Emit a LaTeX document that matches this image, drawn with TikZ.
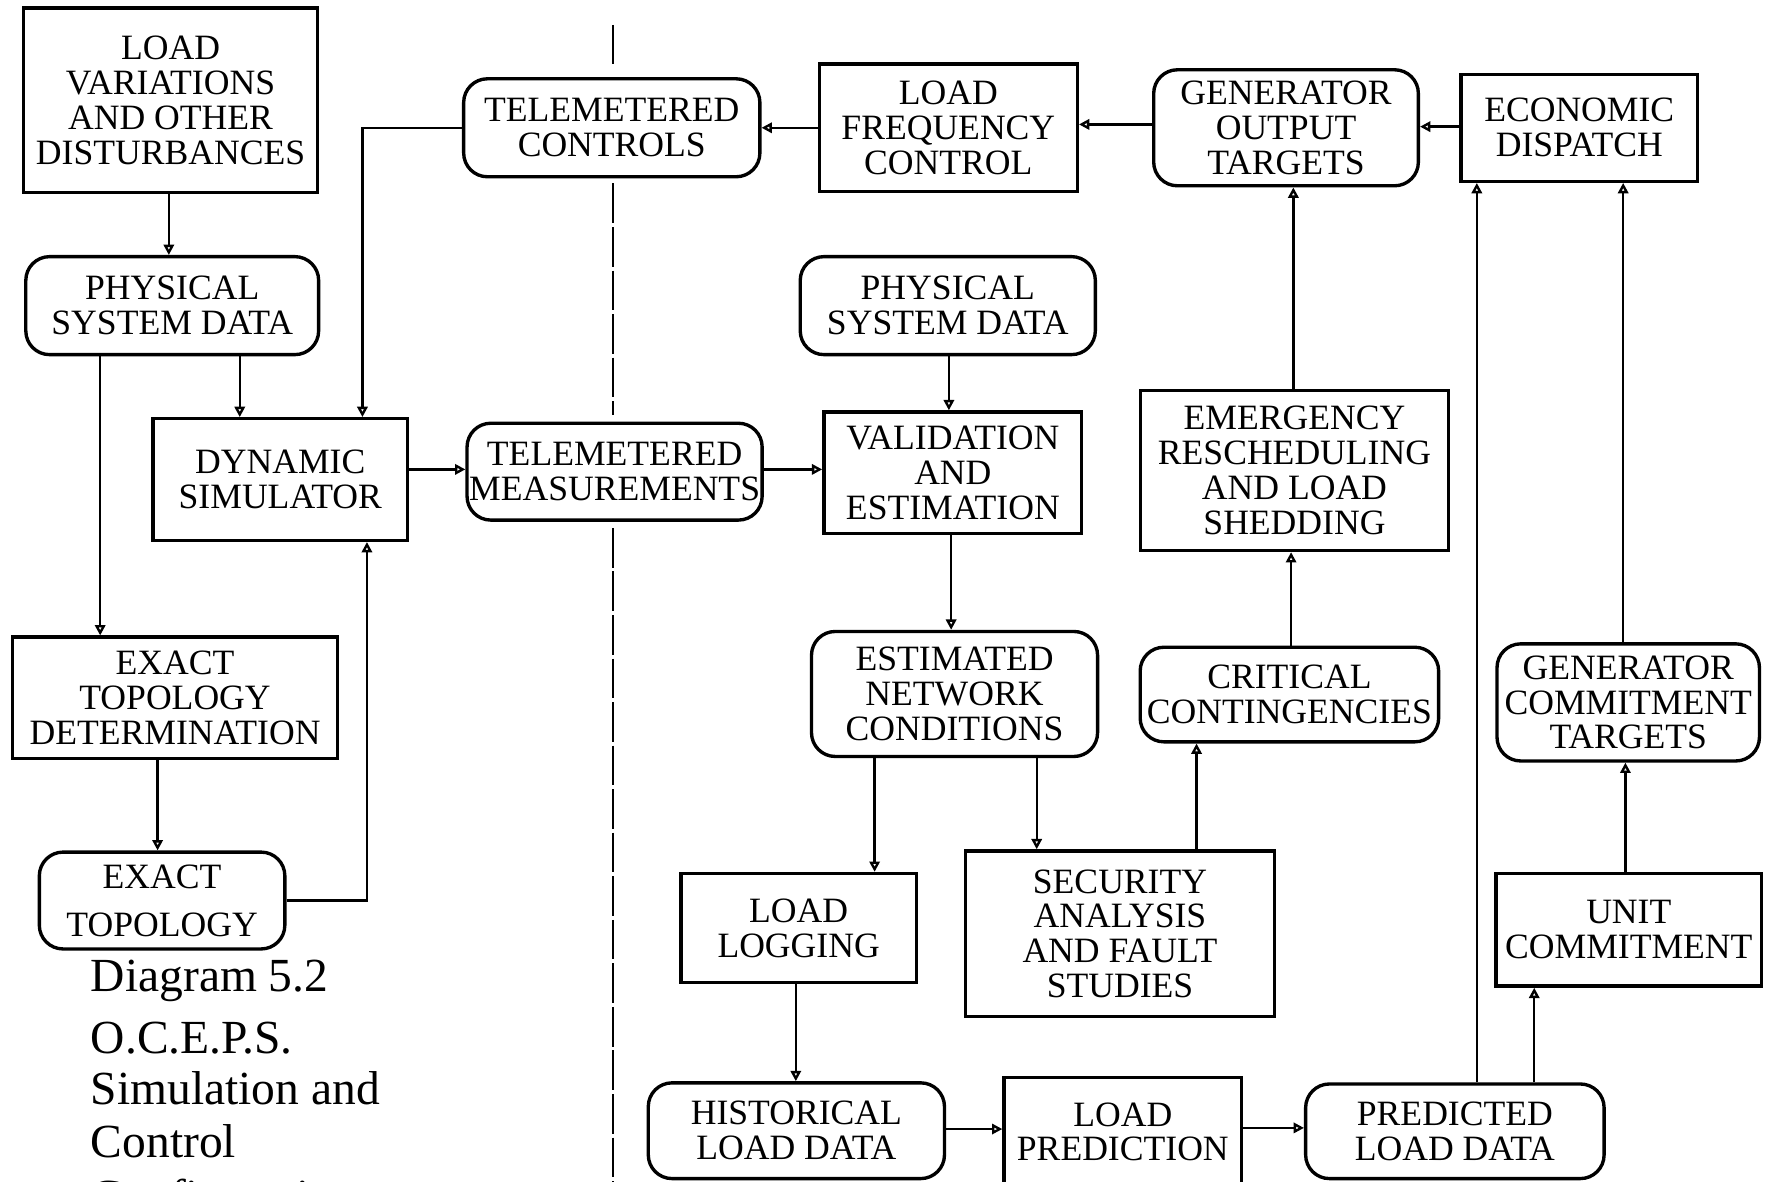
\documentclass[tikz,border=0pt]{standalone}
\usepackage{fontspec}
\setmainfont{Liberation Serif}
\usetikzlibrary{arrows.meta}
\tikzset{
  box/.style={draw, line width=0.85pt, inner sep=0pt, align=center, font=\fontsize{9}{8.8}\selectfont},
  rbox/.style={box, rounded corners=6pt},
  arr/.style={line width=0.6pt, -{Triangle[open,length=2.6pt,width=2.6pt]}},
  divider/.style={line width=0.5pt, dash pattern=on 10pt off 1pt},
  capt/.style={anchor=base west, inner sep=0pt, font=\fontsize{12}{13.9}\selectfont}
}
\begin{document}
\begin{tikzpicture}[x=0.01cm,y=-0.01cm]
\useasboundingbox (0,0) rectangle (1568,1050);
\clip (0,0) rectangle (1568,1050);
\fill[white] (0,0) rectangle (1568,1050);

% left column
\node[box, minimum width=2.61cm, minimum height=1.64cm] (lvad) at (151.5,89) {LOAD\\VARIATIONS\\AND OTHER\\DISTURBANCES};
\node[rbox, minimum width=2.60cm, minimum height=0.87cm] (psdL) at (153,271.5) {PHYSICAL\\SYSTEM DATA};
\node[box, minimum width=2.26cm, minimum height=1.08cm] (ds) at (249,426) {DYNAMIC\\SIMULATOR};
\node[box, minimum width=2.89cm, minimum height=1.08cm] (etd) at (155.5,620) {EXACT\\TOPOLOGY\\DETERMINATION};
\node[rbox, minimum width=2.18cm, minimum height=0.86cm, font=\fontsize{9}{12.2}\selectfont] (et) at (144,800) {EXACT\\TOPOLOGY};

% telemetered
\node[rbox, minimum width=2.63cm, minimum height=0.87cm] (tc) at (543.5,113.5) {TELEMETERED\\CONTROLS};
\node[rbox, minimum width=2.62cm, minimum height=0.86cm] (tm) at (546,419) {TELEMETERED\\MEASUREMENTS};

% top row right
\node[box, minimum width=2.29cm, minimum height=1.13cm] (lfc) at (842.5,113.5) {LOAD\\FREQUENCY\\CONTROL};
\node[rbox, minimum width=2.35cm, minimum height=1.03cm] (got) at (1142.5,113.5) {GENERATOR\\OUTPUT\\TARGETS};
\node[box, minimum width=2.10cm, minimum height=0.95cm] (ed) at (1403,113.5) {ECONOMIC\\DISPATCH};

% middle
\node[rbox, minimum width=2.62cm, minimum height=0.87cm] (psdR) at (842,271.5) {PHYSICAL\\SYSTEM DATA};
\node[box, minimum width=2.29cm, minimum height=1.08cm] (ve) at (846.5,420) {VALIDATION\\AND\\ESTIMATION};
\node[box, minimum width=2.74cm, minimum height=1.42cm] (erls) at (1150,418) {EMERGENCY\\RESCHEDULING\\AND LOAD\\SHEDDING};
\node[rbox, minimum width=2.54cm, minimum height=1.11cm] (enc) at (848,616.5) {ESTIMATED\\NETWORK\\CONDITIONS};
\node[rbox, minimum width=2.65cm, minimum height=0.84cm] (cc) at (1145.5,617) {CRITICAL\\CONTINGENCIES};
\node[rbox, minimum width=2.33cm, minimum height=1.04cm] (gct) at (1446.5,624) {GENERATOR\\COMMITMENT\\TARGETS};
\node[box, minimum width=2.09cm, minimum height=0.97cm] (ll) at (709.5,824.5) {LOAD\\LOGGING};
\node[box, minimum width=2.74cm, minimum height=1.47cm] (safs) at (995,829.5) {SECURITY\\ANALYSIS\\AND FAULT\\STUDIES};
\node[box, minimum width=2.36cm, minimum height=1.00cm] (uc) at (1447,826) {UNIT\\COMMITMENT};

% bottom row
\node[rbox, minimum width=2.63cm, minimum height=0.85cm] (hld) at (707.5,1004.5) {HISTORICAL\\LOAD DATA};
\node[box, minimum width=2.11cm, minimum height=0.97cm] (lp) at (997.5,1005.5) {LOAD\\PREDICTION};
\node[rbox, minimum width=2.65cm, minimum height=0.84cm] (pld) at (1292.5,1005) {PREDICTED\\LOAD DATA};

% caption
\node[capt] (cap1) at (80,881) {Diagram 5.2};
\node[capt] (cap2) at (80,936) {O.C.E.P.S.};
\node[capt] (cap3) at (80,981) {Simulation and};
\node[capt] (cap4) at (80,1028) {Control};
\node[capt] (cap5) at (80,1077) {Configuration};

% divider
\draw[divider] (545,22) -- (545,60);
\draw[divider] (545,163) -- (545,369);
\draw[divider] (545,469) -- (545,1050);

% connectors
\draw[arr] (150,0 |- lvad.south) -- (150,0 |- psdL.north);
\draw[arr] (213,0 |- psdL.south) -- (213,0 |- ds.north);
\draw[arr] (89,0 |- psdL.south) -- (89,0 |- etd.north);
\draw[arr] (140,0 |- etd.south) -- (140,0 |- et.north);
\draw[arr] (et.east |- 0,800) -| (326,0 |- ds.south);
\draw[arr] (tc.west) -| (322,0 |- ds.north);
\draw[arr] (ds.east |- 0,417) -- (tm.west |- 0,417);
\draw[arr] (tm.east |- 0,417) -- (ve.west |- 0,417);
\draw[arr] (lfc.west |- 0,113.5) -- (tc.east |- 0,113.5);
\draw[arr] (got.west |- 0,110.5) -- (lfc.east |- 0,110.5);
\draw[arr] (ed.west |- 0,112.5) -- (got.east |- 0,112.5);
\draw[arr] (1149,0 |- erls.north) -- (1149,0 |- got.south);
\draw[arr] (1147,0 |- cc.north) -- (1147,0 |- erls.south);
\draw[arr] (843,0 |- psdR.south) -- (843,0 |- ve.north);
\draw[arr] (845,0 |- ve.south) -- (845,0 |- enc.north);
\draw[arr] (777,0 |- enc.south) -- (777,0 |- ll.north);
\draw[arr] (921,0 |- enc.south) -- (921,0 |- safs.north);
\draw[arr] (1063,0 |- safs.north) -- (1063,0 |- cc.south);
\draw[arr] (707,0 |- ll.south) -- (707,0 |- hld.north);
\draw[arr] (hld.east |- 0,1003) -- (lp.west |- 0,1003);
\draw[arr] (lp.east |- 0,1002) -- (pld.west |- 0,1002);
\draw[arr] (1312,0 |- pld.north) -- (1312,0 |- ed.south);
\draw[arr] (1363,0 |- pld.north) -- (1363,0 |- uc.south);
\draw[arr] (1444,0 |- uc.north) -- (1444,0 |- gct.south);
\draw[arr] (1442,0 |- gct.north) -- (1442,0 |- ed.south);
\end{tikzpicture}
\end{document}
